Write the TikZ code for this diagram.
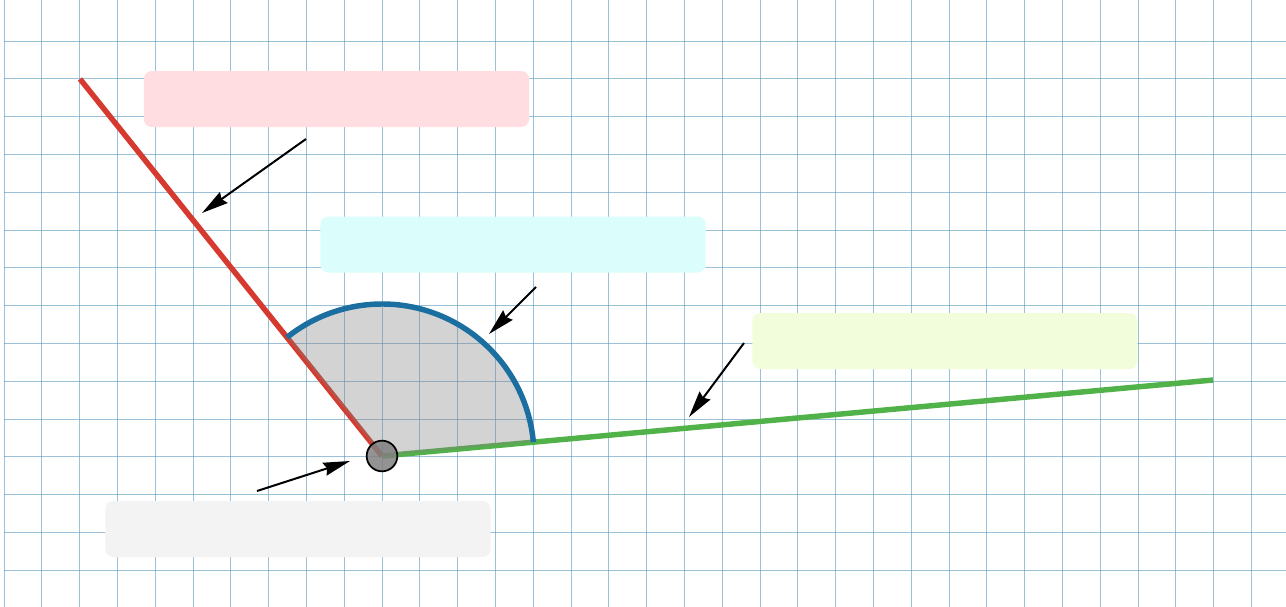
\documentclass[tikz,border=0pt]{standalone}
\usetikzlibrary{arrows.meta,calc}
\definecolor{gridc}{RGB}{90,150,190}
\definecolor{redl}{RGB}{214,58,46}
\definecolor{greenl}{RGB}{82,178,74}
\definecolor{bluel}{RGB}{27,110,160}
\definecolor{boxpink}{RGB}{255,221,225}
\definecolor{boxcyan}{RGB}{219,253,251}
\definecolor{boxgreen}{RGB}{242,253,220}
\definecolor{boxgray}{RGB}{242,243,242}
\tikzset{
  gridline/.style={draw=gridc, line width=0.6pt, opacity=0.6},
  labelbox/.style={rounded corners=6pt, minimum width=289pt, minimum height=42pt, inner sep=0pt, draw=none},
  pointer/.style={draw=black, line width=1.5pt, -{Stealth[length=20pt,width=10pt,inset=2pt]}},
  ray/.style={line width=4.1pt},
}
\begin{document}
\begin{tikzpicture}[x=0.75pt,y=-0.75pt]
\useasboundingbox (0,0) rectangle (1286,607);
% grid
\foreach \k in {0,...,33} {
  \draw[gridline] ({4+37.8*\k},0) -- ({4+37.8*\k},607);
}
\foreach \k in {0,...,14} {
  \draw[gridline] (4,{41+37.8*\k}) -- (1286,{41+37.8*\k});
}
% points
\coordinate (V) at (382,456);
\coordinate (R) at (80,79);
\coordinate (G) at (1213,380);
\coordinate (A1) at ($(V)+(-5.23:152)$);
% rays
\draw[ray, redl] (R) -- (V);
\draw[ray, greenl] (V) -- (G);
% sector
\fill[gray, opacity=0.35] (V) -- (A1) arc[start angle=-5.23, end angle=-128.7, radius=152] -- cycle;
\draw[ray, bluel] (A1) arc[start angle=-5.23, end angle=-128.7, radius=152];
% vertex
\node[circle, draw=black, line width=1.3pt, fill=gray, fill opacity=0.85, minimum size=23pt, inner sep=0pt] (vertex) at (V) {};
% label boxes
\node[labelbox, fill=boxpink] (b1) at (336.5,99) {};
\node[labelbox, fill=boxcyan] (b2) at (513,244.5) {};
\node[labelbox, fill=boxgreen] (b3) at (945,341) {};
\node[labelbox, fill=boxgray] (b4) at (298,529) {};
% pointers
\coordinate (s1) at (306,139);
\coordinate (e1) at (202,213);
\coordinate (s2) at (536,287);
\coordinate (e2) at (489,334);
\coordinate (s3) at (744,343);
\coordinate (e3) at (689,417);
\coordinate (s4) at (257,491);
\coordinate (e4) at (350,461);
\draw[pointer] (s1) -- (e1);
\draw[pointer] (s2) -- (e2);
\draw[pointer] (s3) -- (e3);
\draw[pointer] (s4) -- (e4);
\end{tikzpicture}
\end{document}
